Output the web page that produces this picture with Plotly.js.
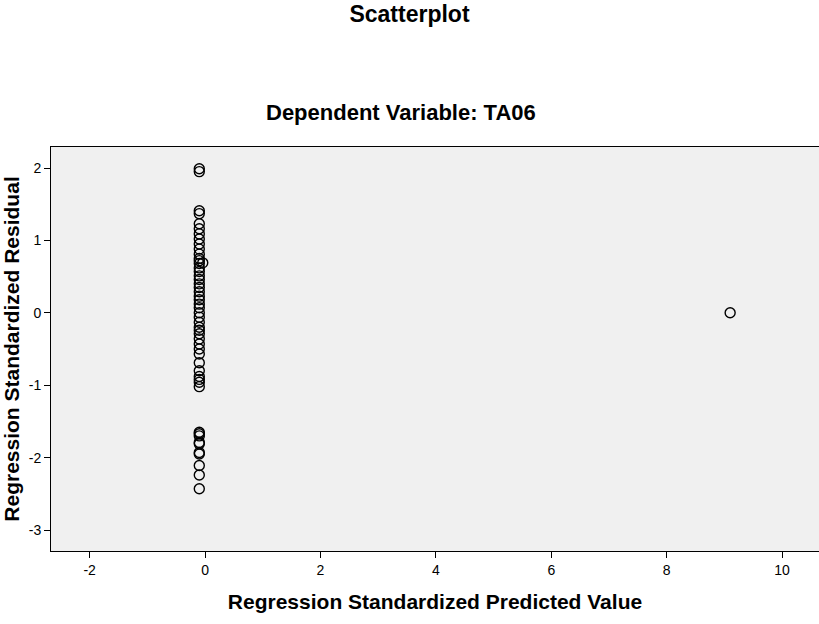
<!DOCTYPE html>
<html>
<head>
<meta charset="utf-8">
<script src="https://cdn.plot.ly/plotly-3.0.1.min.js"></script>
<style>html,body{margin:0;padding:0;background:#fff;}#chart{width:819px;height:624px;}</style>
</head>
<body>
<div id="chart"></div>
<script>
// Regression standardized residuals (y) vs predicted values (x)
var residuals = [1.99, 1.95, 1.41, 1.37, 1.23, 1.16, 1.09, 1.02, 0.95, 0.88, 0.81, 0.75, 0.72, 0.68, 0.62, 0.57, 0.51, 0.46, 0.40, 0.35, 0.29, 0.23, 0.18, 0.12, 0.07, 0.00, -0.06, -0.13, -0.20, -0.24, -0.29, -0.36, -0.43, -0.50, -0.57, -0.69, -0.80, -0.88, -0.92, -0.96, -1.02, -1.65, -1.67, -1.70, -1.79, -1.81, -1.93, -1.95, -2.11, -2.24, -2.43, 0.69, 0.00];
var predicted = [-0.1, -0.1, -0.1, -0.1, -0.1, -0.1, -0.1, -0.1, -0.1, -0.1, -0.1, -0.1, -0.1, -0.1, -0.1, -0.1, -0.1, -0.1, -0.1, -0.1, -0.1, -0.1, -0.1, -0.1, -0.1, -0.1, -0.1, -0.1, -0.1, -0.1, -0.1, -0.1, -0.1, -0.1, -0.1, -0.1, -0.1, -0.1, -0.1, -0.1, -0.1, -0.1, -0.1, -0.1, -0.1, -0.1, -0.1, -0.1, -0.1, -0.1, -0.1, -0.04, 9.1];
var xTicks = [-2, 0, 2, 4, 6, 8, 10];
var yTicks = [-3, -2, -1, 0, 1, 2];

var FONT = 'Liberation Sans, Arial, sans-serif';

var trace = {
  type: 'scatter',
  mode: 'markers',
  x: predicted,
  y: residuals,
  marker: {symbol: 'circle-open', size: 10, color: '#000', line: {color: '#000', width: 1.4}},
  hoverinfo: 'x+y'
};

var layout = {
  width: 819,
  height: 624,
  margin: {l: 51, r: 0, t: 147, b: 73},
  paper_bgcolor: '#ffffff',
  plot_bgcolor: '#f0f0f0',
  showlegend: false,
  font: {family: FONT, color: '#000', size: 14},
  title: {
    text: '<b>Scatterplot</b>',
    font: {family: FONT, size: 23, color: '#000'},
    x: 0.5, xref: 'container', xanchor: 'center',
    y: 1 - 14 / 624, yref: 'container', yanchor: 'middle'
  },
  annotations: [{
    text: '<b>Dependent Variable: TA06</b>',
    xref: 'paper', yref: 'paper',
    x: (401 - 51) / 768, y: 1 + (147 - 113) / 404,
    xanchor: 'center', yanchor: 'middle',
    showarrow: false,
    font: {family: FONT, size: 22, color: '#000'}
  }],
  xaxis: {
    range: [-2.67, 10.64],
    tickvals: xTicks,
    ticktext: xTicks.map(String),
    ticks: 'outside', ticklen: 6, tickwidth: 1, tickcolor: '#000',
    showgrid: false, zeroline: false,
    showline: true, linecolor: '#000', linewidth: 1, mirror: true,
    tickfont: {family: FONT, size: 14, color: '#000'},
    title: {text: '<b>Regression Standardized Predicted Value</b>', font: {family: FONT, size: 21, color: '#000'}, standoff: 17}
  },
  yaxis: {
    range: [-3.29, 2.29],
    tickvals: yTicks,
    ticktext: yTicks.map(String),
    ticks: 'outside', ticklen: 6, tickwidth: 1, tickcolor: '#000',
    showgrid: false, zeroline: false,
    showline: true, linecolor: '#000', linewidth: 1, mirror: false,
    tickfont: {family: FONT, size: 14, color: '#000'},
    title: {text: '<b>Regression Standardized Residual</b>', font: {family: FONT, size: 21, color: '#000'}, standoff: 6}
  }
};

Plotly.newPlot('chart', [trace], layout, {displayModeBar: false, staticPlot: true});
</script>
</body>
</html>
